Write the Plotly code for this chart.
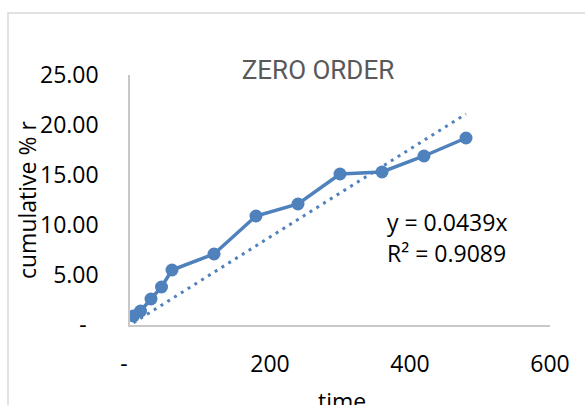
import numpy as np
import plotly.graph_objects as go

# ---- data ----
time_min = [5, 15, 30, 45, 60, 120, 180, 240, 300, 360, 420, 480]
cum_release = [0.9, 1.4, 2.6, 3.8, 5.5, 7.1, 10.9, 12.1, 15.1, 15.3, 16.9, 18.7]

y_tick_vals = [0, 5, 10, 15, 20, 25]
y_tick_text = ["-\u00a0\u00a0", "5.00", "10.00", "15.00", "20.00", "25.00"]
x_tick_vals = [0, 200, 400, 600]
x_tick_text = ["-\u00a0\u00a0", "200", "400", "600"]

chart_title = "ZERO ORDER"
x_title = "time"
y_title = "cumulative % r"
eq_lines = ["y = 0.0439x", "R\u00b2 = 0.9089"]

# ---- styles ----
BLUE = "#4f81bd"
AXIS_GREY = "#c8c8c8"
FONT = "Open Sans, Lato, sans-serif"

x = np.array(time_min, dtype=float)
y = np.array(cum_release, dtype=float)
slope = float((x * y).sum() / (x * x).sum())  # linear trend through origin
trend_x = [x.min(), x.max()]
trend_y = [slope * v for v in trend_x]

fig = go.Figure()
fig.add_trace(go.Scatter(
    x=trend_x, y=trend_y, mode="lines",
    line=dict(color=BLUE, width=3, dash="3px,5px"),
    hoverinfo="skip",
))
fig.add_trace(go.Scatter(
    x=time_min, y=cum_release, mode="lines+markers",
    line=dict(color=BLUE, width=3.5),
    marker=dict(color=BLUE, size=13),
))

W, H = 585, 405
L, R, T, B = 130, 35, 75, 80
pw, ph = W - L - R, H - T - B


def px_x(p):
    return (p - L) / pw


def px_y(p):
    return (H - B - p) / ph


fig.update_layout(
    width=W, height=H,
    margin=dict(l=L, r=R, t=T, b=B),
    paper_bgcolor="white", plot_bgcolor="white",
    showlegend=False,
    font=dict(family=FONT, color="#000000", size=23),
    title=dict(
        text=chart_title, x=318 / W, xanchor="center",
        y=1 - 70 / H, yanchor="middle",
        font=dict(family="Liberation Sans Narrow, Roboto, sans-serif", size=26, color="#595959"),
    ),
    xaxis=dict(
        range=[0, 600], tickvals=x_tick_vals, ticktext=x_tick_text,
        showgrid=False, zeroline=False, showline=True,
        linecolor=AXIS_GREY, linewidth=1.5, ticks="",
        ticklabelstandoff=18,
        tickfont=dict(family=FONT, size=23, color="#000000"),
    ),
    yaxis=dict(
        range=[0, 25], tickvals=y_tick_vals, ticktext=y_tick_text,
        showgrid=False, zeroline=False, showline=True,
        linecolor=AXIS_GREY, linewidth=1.5, ticks="",
        ticklabelstandoff=25,
        tickfont=dict(family=FONT, size=23, color="#000000"),
    ),
    annotations=[
        dict(text=y_title, textangle=-90, xref="paper", yref="paper",
             x=px_x(27), y=px_y(200), xanchor="center", yanchor="middle",
             showarrow=False, font=dict(family=FONT, size=23, color="#000000")),
        dict(text=x_title, xref="paper", yref="paper",
             x=px_x(342), y=px_y(383), xanchor="center", yanchor="top",
             showarrow=False, font=dict(family=FONT, size=23, color="#000000")),
        dict(text=eq_lines[0], xref="paper", yref="paper",
             x=px_x(385), y=px_y(222), xanchor="left", yanchor="middle",
             showarrow=False, font=dict(family=FONT, size=23, color="#000000")),
        dict(text=eq_lines[1], xref="paper", yref="paper",
             x=px_x(385), y=px_y(253), xanchor="left", yanchor="middle",
             showarrow=False, font=dict(family=FONT, size=23, color="#000000")),
    ],
    shapes=[
        dict(type="rect", xref="paper", yref="paper",
             x0=px_x(8), x1=px_x(600), y0=px_y(420), y1=px_y(13),
             line=dict(color="#d9d9d9", width=1.5), layer="below"),
    ],
)

fig.write_html("out.html")
